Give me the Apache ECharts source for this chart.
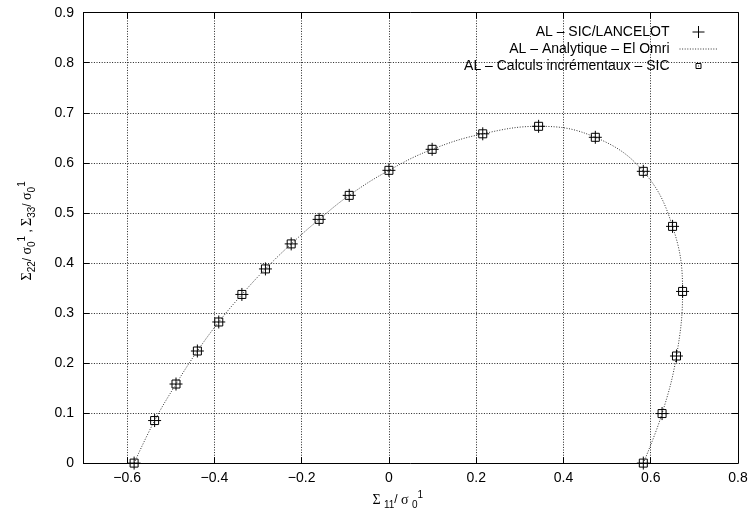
<!DOCTYPE html>
<html><head><meta charset="utf-8">
<script src="https://cdn.jsdelivr.net/npm/echarts@6/dist/echarts.min.js"></script>
<style>html,body{margin:0;padding:0;background:#fff}#c{width:754px;height:515px}</style>
</head><body><div id="c"></div>
<script>
const seriesNames = ['AL – SIC/LANCELOT', 'AL – Analytique – El Omri', 'AL – Calculs incrémentaux – SIC'];
const lancelotX = [-0.584, -0.537, -0.488, -0.439, -0.390, -0.337, -0.283, -0.224, -0.160, -0.091, 0.000, 0.099, 0.215, 0.343, 0.473, 0.583, 0.650, 0.673, 0.659, 0.626, 0.583];
const lancelotY = [0.000, 0.085, 0.158, 0.224, 0.282, 0.337, 0.388, 0.438, 0.487, 0.535, 0.585, 0.627, 0.658, 0.673, 0.651, 0.583, 0.473, 0.343, 0.214, 0.099, 0.000];
const analyticX = [-0.584, -0.537, -0.488, -0.439, -0.390, -0.337, -0.283, -0.224, -0.160, -0.091, 0.000, 0.099, 0.215, 0.343, 0.473, 0.583, 0.650, 0.673, 0.659, 0.626, 0.583];
const analyticY = [0.000, 0.085, 0.158, 0.224, 0.282, 0.337, 0.388, 0.438, 0.487, 0.535, 0.585, 0.627, 0.658, 0.673, 0.651, 0.583, 0.473, 0.343, 0.214, 0.099, 0.000];
const incrX = [-0.584, -0.537, -0.488, -0.439, -0.390, -0.337, -0.283, -0.224, -0.160, -0.091, 0.000, 0.099, 0.215, 0.343, 0.473, 0.583, 0.650, 0.673, 0.659, 0.626, 0.583];
const incrY = [0.000, 0.085, 0.158, 0.224, 0.282, 0.337, 0.388, 0.438, 0.487, 0.535, 0.585, 0.627, 0.658, 0.673, 0.651, 0.583, 0.473, 0.343, 0.214, 0.099, 0.000];
const xTicks = [-0.6, -0.4, -0.2, 0, 0.2, 0.4, 0.6, 0.8];
const yTicks = [0, 0.1, 0.2, 0.3, 0.4, 0.5, 0.6, 0.7, 0.8, 0.9];
const xRange = [-0.7, 0.8];
const yRange = [0, 0.9];

const FONT = 'Liberation Sans, Arial, sans-serif';
const GREEK = 'Liberation Serif, DejaVu Serif, serif';
const pair = (xs, ys) => xs.map((x, i) => [x, ys[i]]);
const fmt = v => String(+(+v).toFixed(1)).replace('-', '\u2212');

const nameRich = {
  g: { fontFamily: GREEK, fontSize: 14, lineHeight: 20, verticalAlign: 'middle', color: '#000' },
  b: { fontFamily: FONT, fontSize: 12, lineHeight: 20, verticalAlign: 'middle', color: '#000' },
  s: { fontFamily: FONT, fontSize: 10, lineHeight: 12, verticalAlign: 'bottom', color: '#000' },
  p: { fontFamily: FONT, fontSize: 10, lineHeight: 12, verticalAlign: 'top', color: '#000' }
};

const crossPath = 'path://M0,6.5H13M6.5,0V13';
const legendSquare = 'path://M0,0L0,0M12,12L12,12M3.5,3.5H8.5V8.5H3.5ZM5.6,6H6.4';

const axisCommon = {
  axisLine: { show: true, onZero: false, lineStyle: { color: '#000', width: 1 } },
  axisTick: { show: true, inside: true, length: 6, lineStyle: { color: '#000' } }
};
const tickLabel = { formatter: fmt, color: '#000', fontSize: 14, fontFamily: FONT };

const chart = echarts.init(document.getElementById('c'), null, { renderer: 'canvas' });
chart.setOption({
  animation: false,
  backgroundColor: '#fff',
  textStyle: { fontFamily: FONT },
  grid: { left: 83.5, right: 16, top: 12.7, bottom: 49.8, containLabel: false },
  legend: {
    orient: 'vertical', right: 31, top: 20, align: 'right',
    itemWidth: 38, itemHeight: 12, itemGap: 3,
    textStyle: { fontFamily: FONT, fontSize: 14, lineHeight: 12, color: '#000', padding: [0, 5, 0, 0] },
    lineStyle: { width: 1 },
    itemStyle: { borderWidth: 1 },
    data: [
      { name: seriesNames[0], icon: crossPath },
      { name: seriesNames[1], itemStyle: { color: 'rgba(0,0,0,0)', borderWidth: 0 } },
      { name: seriesNames[2], icon: legendSquare }
    ]
  },
  xAxis: [
    Object.assign({}, axisCommon, {
      type: 'value', position: 'bottom', min: xRange[0], max: xRange[1],
      axisTick: Object.assign({}, axisCommon.axisTick, { customValues: xTicks }),
      axisLabel: Object.assign({ customValues: xTicks, margin: 8 }, tickLabel),
      splitLine: { show: true, lineStyle: { color: '#222', width: 1, type: [1, 1.6] } },
      name: '{g|Σ} {s|11}{b|/ }{g|σ} {s|0}{p|1}',
      nameLocation: 'middle', nameGap: 21,
      nameTextStyle: { rich: nameRich, padding: [0, 26, 0, 0] }
    }),
    Object.assign({}, axisCommon, {
      type: 'value', position: 'top', min: xRange[0], max: xRange[1],
      axisTick: Object.assign({}, axisCommon.axisTick, { customValues: xTicks }),
      axisLabel: { show: false }, splitLine: { show: false }
    })
  ],
  yAxis: [
    Object.assign({}, axisCommon, {
      type: 'value', position: 'left', min: yRange[0], max: yRange[1], interval: 0.1,
      axisTick: Object.assign({}, axisCommon.axisTick, { customValues: yTicks }),
      axisLabel: Object.assign({ customValues: yTicks, margin: 9.5 }, tickLabel),
      splitLine: { show: true, lineStyle: { color: '#222', width: 1, type: [1, 1.6] } },
      name: '{g|Σ}{s|22}{b|/ }{g|σ}{s|0}{p|1}{b| , }{g|Σ}{s|33}{b|/ }{g|σ}{s|0}{p|1}',
      nameLocation: 'middle', nameGap: 46, nameRotate: 90,
      nameTextStyle: { rich: nameRich, padding: [0, 0, 0, 14] }
    }),
    Object.assign({}, axisCommon, {
      type: 'value', position: 'right', min: yRange[0], max: yRange[1], interval: 0.1,
      axisTick: Object.assign({}, axisCommon.axisTick, { customValues: yTicks }),
      axisLabel: { show: false }, splitLine: { show: false }
    })
  ],
  series: [
    {
      name: seriesNames[0], type: 'scatter', xAxisIndex: 0, yAxisIndex: 0,
      data: pair(lancelotX, lancelotY),
      symbol: crossPath, symbolSize: 13, z: 4,
      itemStyle: { color: 'rgba(0,0,0,0)', borderColor: '#000', borderWidth: 1, opacity: 1 },
      emphasis: { disabled: true }
    },
    {
      name: seriesNames[1], type: 'line', xAxisIndex: 0, yAxisIndex: 0,
      data: pair(analyticX, analyticY), smooth: 0.4, symbol: 'none', z: 2,
      itemStyle: { color: 'rgba(0,0,0,0)', borderWidth: 0 },
      lineStyle: { color: '#333', width: 1, type: [1, 1.6] },
      emphasis: { disabled: true }
    },
    {
      name: seriesNames[2], type: 'scatter', xAxisIndex: 0, yAxisIndex: 0,
      data: pair(incrX, incrY),
      symbol: 'rect', symbolSize: 8, z: 3,
      itemStyle: { color: 'rgba(0,0,0,0)', borderColor: '#000', borderWidth: 1, opacity: 1 },
      emphasis: { disabled: true }
    }
  ]
});
</script>
</body></html>
